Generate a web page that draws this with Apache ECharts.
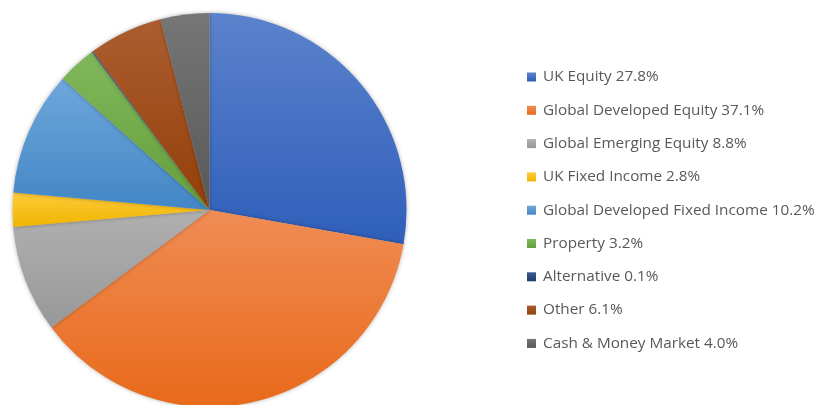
<!DOCTYPE html>
<html>
<head>
<meta charset="utf-8">
<script src="https://cdn.jsdelivr.net/npm/echarts@6/dist/echarts.min.js"></script>
<style>
  html, body { margin: 0; padding: 0; background: #fff; }
  #chart { width: 819px; height: 405px; }
</style>
</head>
<body>
<div id="chart"></div>
<script>
// asset classes and their share of the portfolio (%)
const categories = [
  'UK Equity',
  'Global Developed Equity',
  'Global Emerging Equity',
  'UK Fixed Income',
  'Global Developed Fixed Income',
  'Property',
  'Alternative',
  'Other',
  'Cash & Money Market'
]
const values = [27.8, 37.1, 8.8, 2.8, 10.2, 3.2, 0.1, 6.1, 4.0]

// office palette, top (lighter) and bottom (darker) of each slice gradient
const topColors = ['#5b82cc', '#f08c55', '#b0b0b0', '#ffcb3a', '#6fa7db', '#80b75c', '#3a5790', '#ac5d30', '#767676']
const bottomColors = ['#2f5fba', '#e86a1a', '#989898', '#f0b400', '#4286c6', '#64a03a', '#1f3c70', '#933f08', '#585858']

const chart = echarts.init(document.getElementById('chart'))

const pieData = categories.map((name, i) => ({
  name: name,
  value: values[i],
  itemStyle: {
    color: new echarts.graphic.LinearGradient(0, 0, 0, 1, [
      { offset: 0, color: topColors[i] },
      { offset: 1, color: bottomColors[i] }
    ])
  }
}))

const option = {
  animation: false,
  color: bottomColors,
  legend: {
    orient: 'vertical',
    left: 527,
    top: 69,
    padding: 0,
    icon: 'rect',
    itemWidth: 9,
    itemHeight: 9,
    itemGap: 17.3,
    selectedMode: false,
    textStyle: {
      fontFamily: 'Open Sans',
      fontSize: 15.3,
      lineHeight: 16,
      color: '#595959',
      padding: [0, 0, 0, 2]
    },
    formatter: function (name) {
      const i = categories.indexOf(name)
      return name + ' ' + values[i].toFixed(1) + '%'
    },
    data: categories
  },
  series: [
    {
      type: 'pie',
      center: [209.5, 210],
      radius: 197,
      startAngle: 90,
      clockwise: true,
      label: { show: false },
      labelLine: { show: false },
      emphasis: { disabled: true },
      itemStyle: {
        borderWidth: 0,
        shadowBlur: 4,
        shadowColor: 'rgba(0,0,0,0.3)'
      },
      data: pieData
    }
  ]
}

chart.setOption(option)
</script>
</body>
</html>
